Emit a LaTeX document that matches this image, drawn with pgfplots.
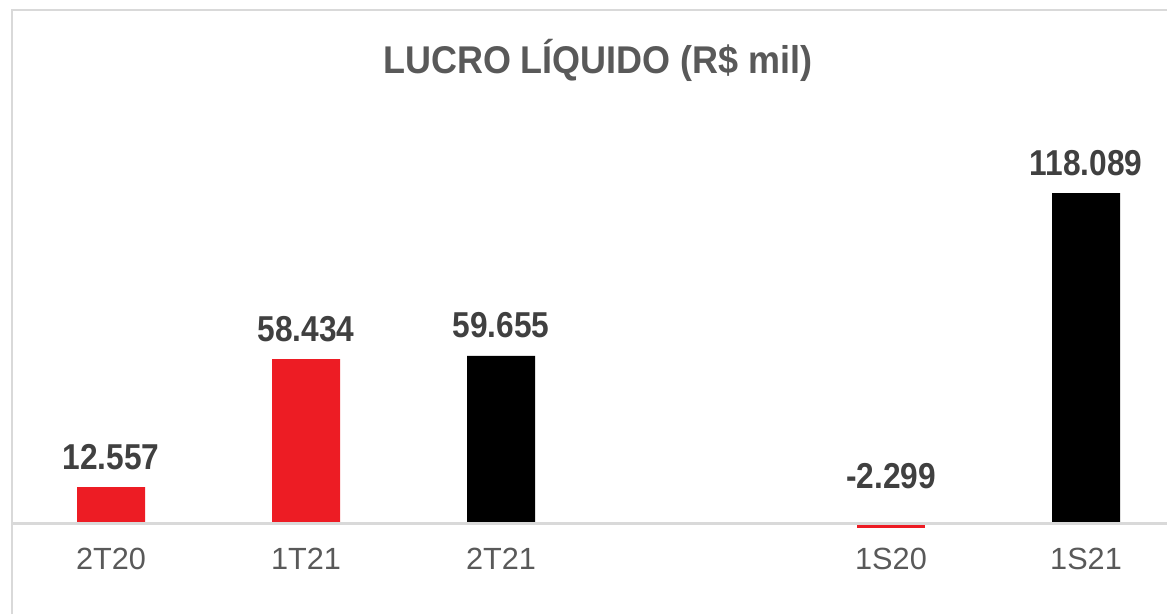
\documentclass[border=0pt]{standalone}
\usepackage{pgfplots}
\pgfplotsset{compat=1.18}
\usepackage{graphicx}
\usepackage{fontspec}
\setmainfont{Liberation Sans}
\definecolor{barred}{HTML}{ED1C24}
\definecolor{labelgray}{HTML}{404040}
\definecolor{tickgray}{HTML}{595959}
\definecolor{linegray}{HTML}{D9D9D9}
% text looks a bit narrow in the original
\newcommand\sq[1]{\scalebox{0.88}[1]{#1}}

\begin{document}
\begin{tikzpicture}
\begin{axis}[
    scale only axis,
    width=866.25pt, height=453pt,
    xmin=-0.5077, xmax=5.4154,
    ymin=-33.02, ymax=183.78,
    axis x line*=middle,
    axis y line=none,
    x axis line style={draw=none},
    xtick={0,1,2,4,5},
    xticklabels={2T20,1T21,2T21,1S20,1S21},
    major tick length=0pt,
    xticklabel style={font=\fontsize{23}{23}\selectfont, text=tickgray,
        anchor=base, yshift=-35.25pt},
    ytick=\empty,
    clip=false,
    ybar,
    bar width=51pt,
    point meta=explicit symbolic,
    every node near coord/.append style={font=\bfseries\fontsize{27}{27}\selectfont,
        text=labelgray, anchor=base},
]
% red bars (quarters / semester 2020)
\addplot[fill=barred, draw=none, bar shift=0pt,
    nodes near coords={\sq{\pgfplotspointmeta}},
    nodes near coords align={anchor=base},
    every node near coord/.append style={yshift=13.5pt}]
    coordinates {(0,12.557) [12.557] (1,58.434) [58.434]};
\addplot[fill=barred, draw=none, bar shift=0pt,
    nodes near coords={\sq{\pgfplotspointmeta}},
    nodes near coords align={anchor=base},
    every node near coord/.append style={yshift=30.3pt}]
    coordinates {(4,-2.299) [-2.299]};
% black bars (2021)
\addplot[fill=black, draw=none, bar shift=0pt,
    nodes near coords={\sq{\pgfplotspointmeta}},
    nodes near coords align={anchor=base},
    every node near coord/.append style={yshift=13.5pt}]
    coordinates {(2,59.655) [59.655] (5,118.089) [118.089]};

% frame and zero line
\draw[linegray, line width=1.5pt]
    (axis cs:-0.5077,-33.02) -- (axis cs:-0.5077,183.78) -- (axis cs:5.4154,183.78);
\draw[linegray, line width=2pt, yshift=-1pt]
    (axis cs:-0.5077,0) -- (axis cs:5.4154,0);

\node[anchor=base, text=tickgray, font=\bfseries\fontsize{29}{29}\selectfont]
    at (axis cs:2.497,161.05) {\scalebox{0.93}[1]{LUCRO LÍQUIDO (R\$ mil)}};

\coordinate (SW) at (axis cs:-0.5077,-33.02);
\coordinate (NE) at (axis cs:5.4154,183.78);
\end{axis}
\pgfresetboundingbox
\path[use as bounding box] ([xshift=-9pt]SW) rectangle ([yshift=7.5pt]NE);
\end{tikzpicture}
\end{document}
